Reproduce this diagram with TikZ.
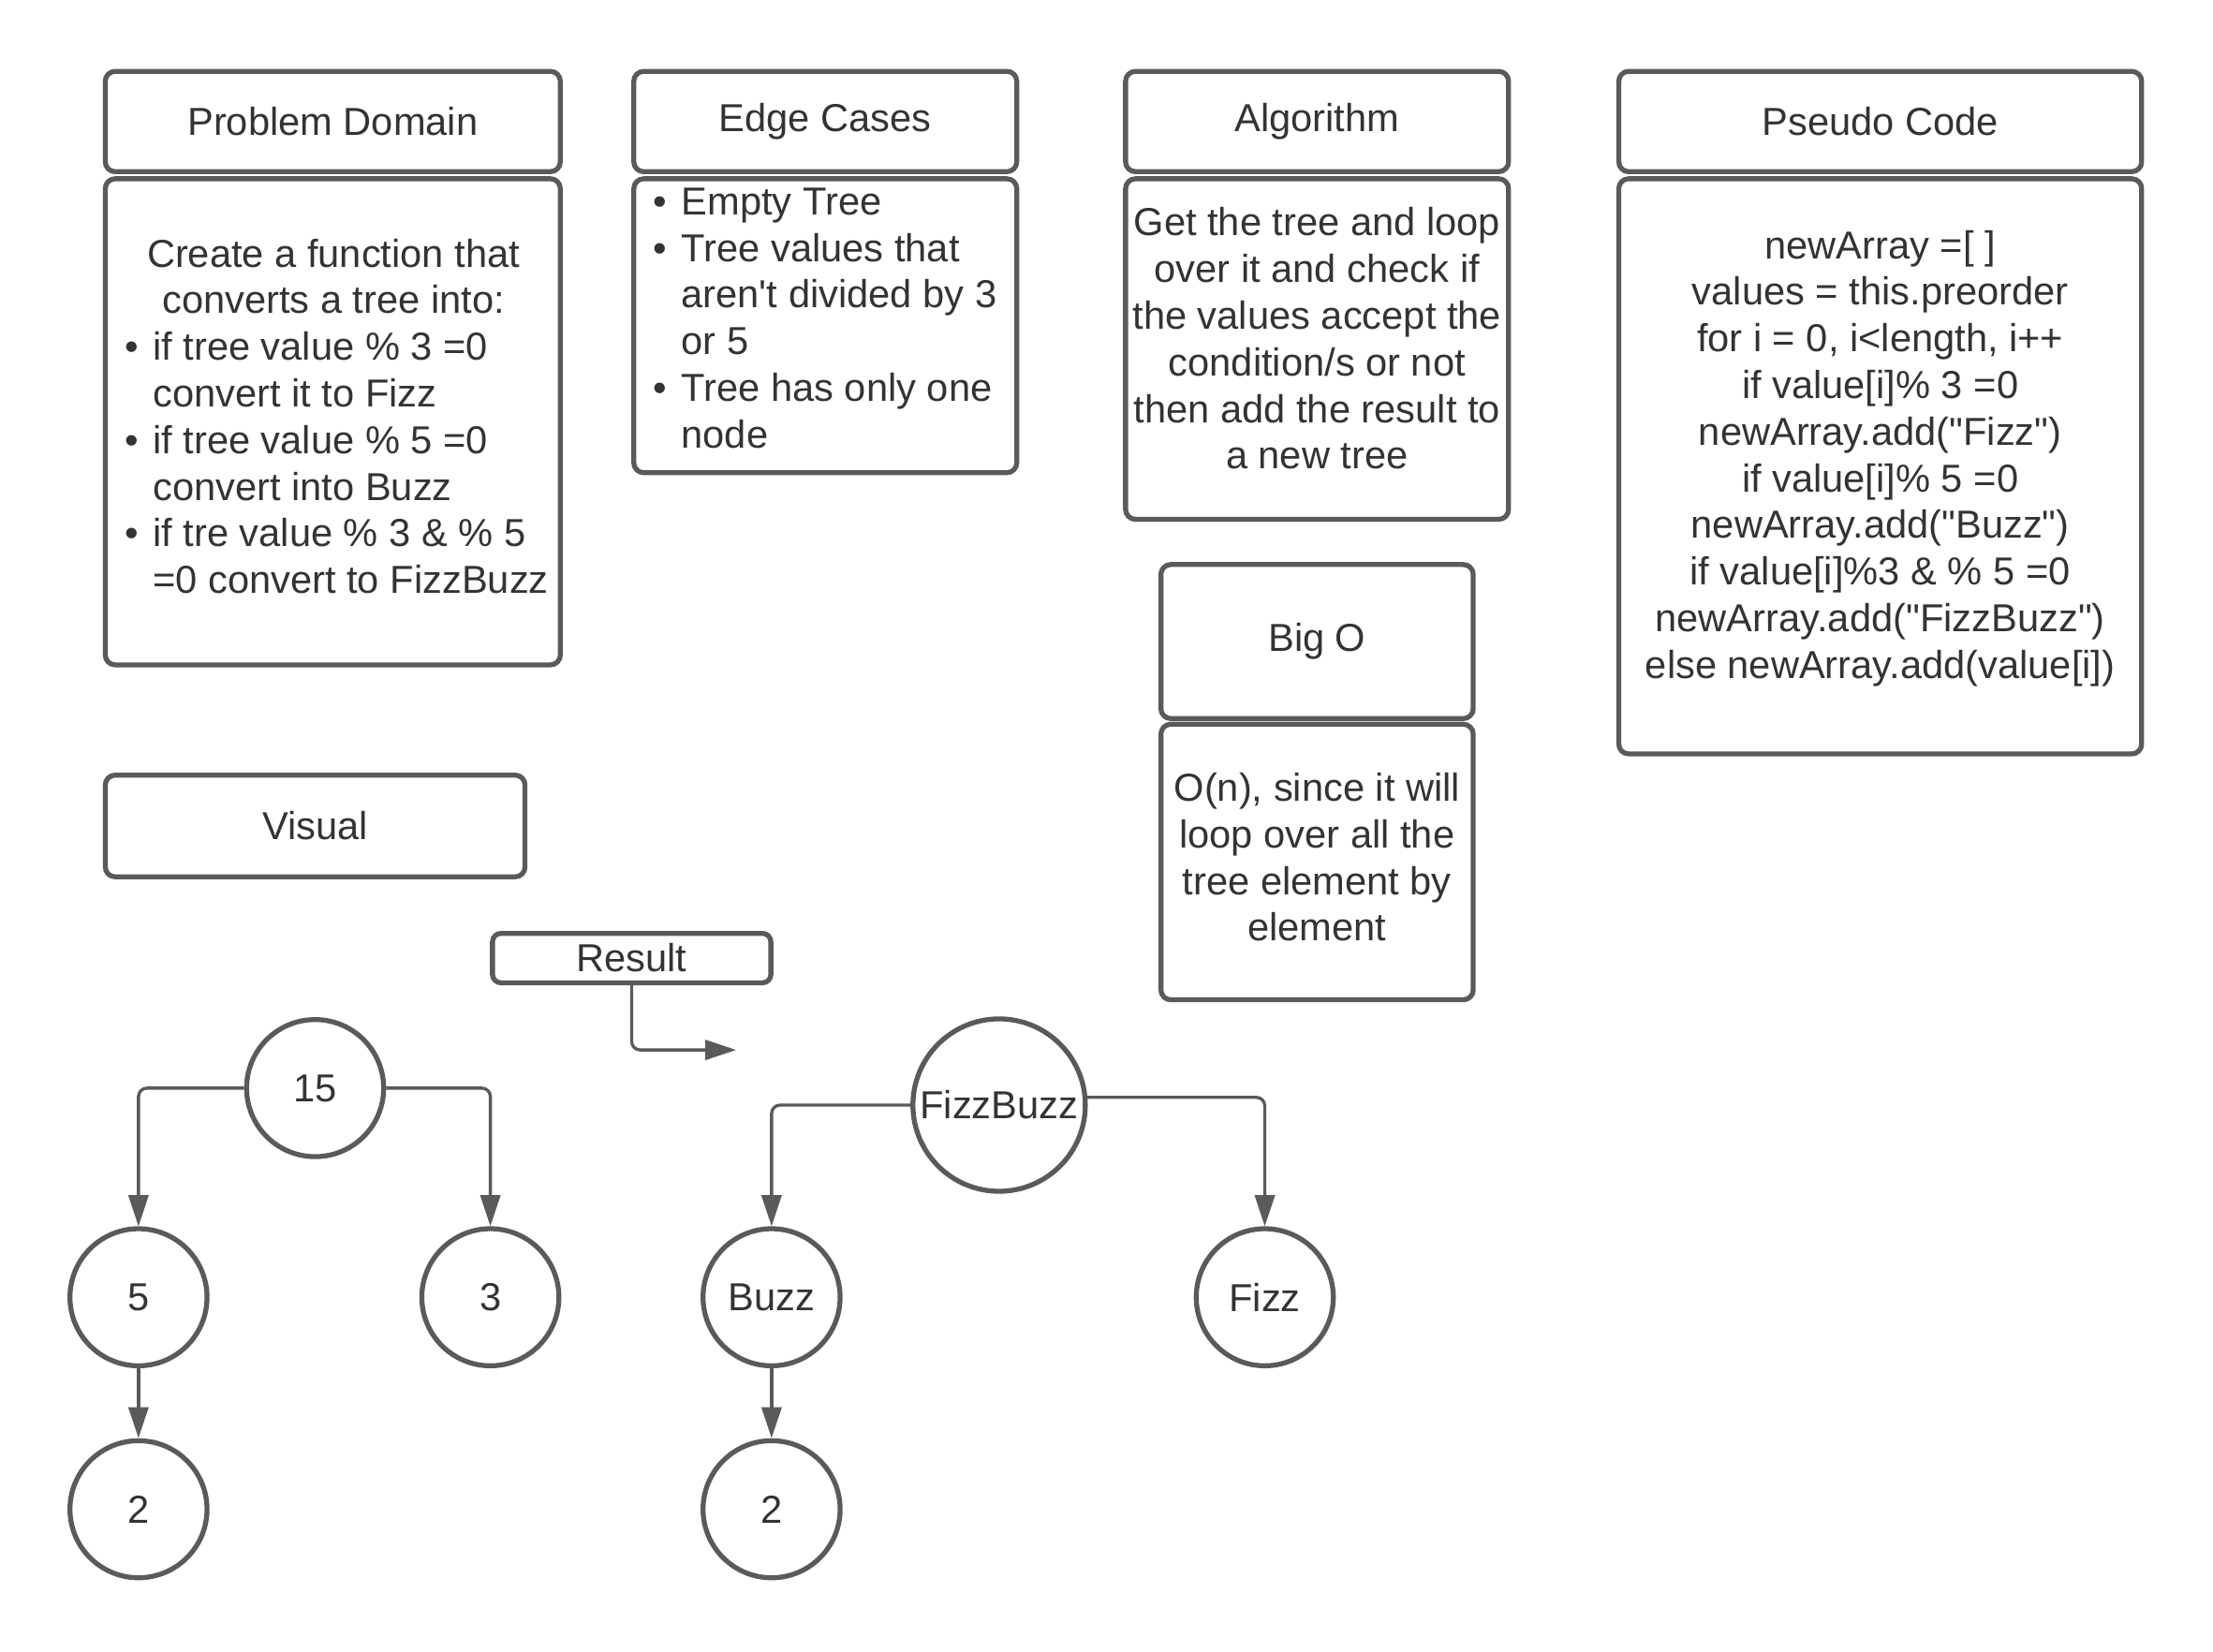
\documentclass[tikz,border=0pt]{standalone}
\usepackage{fontspec}
\setmainfont{Liberation Sans}[Ligatures=TeXOff]
\usetikzlibrary{arrows.meta}
\definecolor{lc}{HTML}{5A5A5A}
\definecolor{tc}{HTML}{333333}
\newcommand\fs{\fontsize{27.6}{33}\selectfont}
\newcommand\bul{\makebox[20pt][l]{•}}
\newcommand\ind{\hspace*{20pt}}
\begin{document}
\begin{tikzpicture}[x=1pt,y=-1pt,
 box/.style={draw=lc, line width=3.5pt, rounded corners=7pt, inner sep=0pt, font=\fs, text=tc},
 circ/.style={draw=lc, line width=3.5pt, circle, inner sep=0pt, minimum size=97pt, font=\fs, text=tc},
 conn/.style={draw=lc, line width=2.2pt, rounded corners=6pt, -{Triangle[length=22pt,width=14pt]}},
 txt/.style={inner sep=0pt, font=\fs, text=tc},
]
\useasboundingbox (0,0) rectangle (1566,1168.4);
% headers and bodies
\node[box, minimum width=322pt, minimum height=71pt] (pdh) at (235.5,86) {Problem Domain};
\node[box, minimum width=322pt, minimum height=344pt] (pdb) at (235.5,298.5) {};
\node[box, minimum width=271pt, minimum height=71pt] (ech) at (584,86) {Edge Cases};
\node[box, minimum width=271pt, minimum height=208pt] (ecb) at (584,230.5) {};
\node[box, minimum width=271pt, minimum height=71pt] (alh) at (932,86) {Algorithm};
\node[box, minimum width=271pt, minimum height=241pt] (alb) at (932,247) {};
\node[box, minimum width=370pt, minimum height=71pt] (psh) at (1330.5,86) {Pseudo Code};
\node[box, minimum width=370pt, minimum height=407pt] (psb) at (1330.5,330) {};
\node[box, minimum width=221pt, minimum height=109pt] (boh) at (932,454) {Big O};
\node[box, minimum width=221pt, minimum height=195pt] (bob) at (932,610) {};
\node[box, minimum width=297pt, minimum height=72pt] (vis) at (223,584.5) {Visual};
\node[box, rounded corners=6pt, minimum width=197pt, minimum height=35pt] (res) at (447,678) {Result};
% body texts (anchor = baseline of last line)
\node[txt, align=center, anchor=base] (pdt1) at (236,222) {Create a function that\\converts a tree into:};
\node[txt, align=left, anchor=base west] (pdt2) at (88,420) {\bul if tree value \% 3 =0\\\ind convert it to Fizz\\\bul if tree value \% 5 =0\\\ind convert into Buzz\\\bul if tre value \% 3 \& \% 5\\\ind =0 convert to FizzBuzz};
\node[txt, align=left, anchor=base west] (ect) at (462,317) {\bul Empty Tree\\\bul Tree values that\\\ind aren't divided by 3\\\ind or 5\\\bul Tree has only one\\\ind node};
\node[txt, align=center, anchor=base] (alt) at (932,332) {Get the tree and loop\\over it and check if\\the values accept the\\condition/s or not\\then add the result to\\a new tree};
\node[txt, align=center, anchor=base] (pst) at (1330.5,480) {newArray =[ ]\\values = this.preorder\\for i = 0, i<length, i++\\if value[i]\% 3 =0\\newArray.add("Fizz")\\if value[i]\% 5 =0\\newArray.add("Buzz")\\if value[i]\%3 \& \% 5 =0\\newArray.add("FizzBuzz")\\else newArray.add(value[i])};
\node[txt, align=center, anchor=base] (bot) at (932,666) {O(n), since it will\\loop over all the\\tree element by\\element};
% trees
\node[circ] (n15) at (223,770) {15};
\node[circ] (n5) at (98,918) {5};
\node[circ] (n3) at (347,918) {3};
\node[circ] (n2a) at (98,1068) {2};
\node[circ, minimum size=122pt] (fb) at (707,782) {FizzBuzz};
\node[circ] (buzz) at (546,918) {Buzz};
\node[circ] (fizz) at (895,918) {Fizz};
\node[circ] (n2b) at (546,1068) {2};
\coordinate (rend) at (521,743);
\draw[conn] (n15.west) -| (n5.north);
\draw[conn] (n15.east) -| (n3.north);
\draw[conn] (n5.south) -- (n2a.north);
\draw[conn] (res.south) |- (rend);
\draw[conn] (fb.west) -| (buzz.north);
\draw[conn] (fb.5) -| (fizz.north);
\draw[conn] (buzz.south) -- (n2b.north);
\end{tikzpicture}
\end{document}
